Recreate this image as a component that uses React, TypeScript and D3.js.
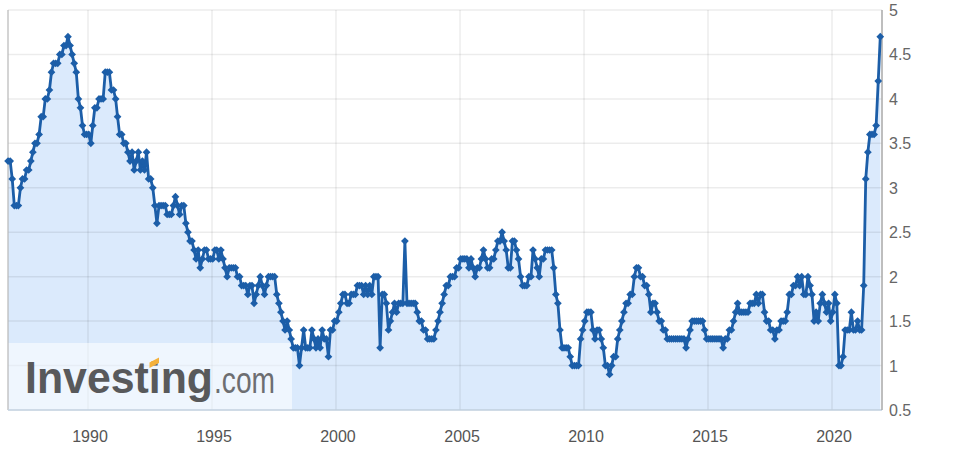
import React from "react";
import * as d3 from "d3";

const startYear = 1986;
const startMonth = 9; // October (0-based)

const rates: number[] = [
  // 1986 Oct-Dec
  3.3, 3.3, 3.1,
  // 1987
  2.8, 2.8, 2.8, 3.0, 3.1, 3.1, 3.2, 3.2, 3.3, 3.4, 3.5, 3.5,
  // 1988
  3.6, 3.8, 3.8, 4.0, 4.0, 4.1, 4.3, 4.4, 4.4, 4.4, 4.5, 4.5,
  // 1989
  4.6, 4.6, 4.7, 4.6, 4.5, 4.4, 4.3, 4.0, 3.9, 3.7, 3.6, 3.6,
  // 1990
  3.6, 3.5, 3.7, 3.9, 3.9, 4.0, 4.0, 4.0, 4.3, 4.3, 4.3, 4.1,
  // 1991
  4.1, 4.0, 3.8, 3.6, 3.6, 3.5, 3.5, 3.4, 3.3, 3.4, 3.2, 3.3,
  // 1992
  3.4, 3.2, 3.3, 3.2, 3.4, 3.1, 3.1, 3.0, 2.8, 2.6, 2.8, 2.8,
  // 1993
  2.8, 2.8, 2.7, 2.7, 2.7, 2.8, 2.9, 2.8, 2.7, 2.8, 2.8, 2.6,
  // 1994
  2.5, 2.4, 2.4, 2.3, 2.2, 2.3, 2.1, 2.2, 2.3, 2.3, 2.2, 2.2,
  // 1995
  2.2, 2.3, 2.3, 2.2, 2.3, 2.2, 2.1, 2.0, 2.1, 2.1, 2.1, 2.1,
  // 1996
  2.0, 2.0, 1.9, 1.9, 1.9, 1.8, 1.9, 1.9, 1.7, 1.8, 1.9, 2.0,
  // 1997
  1.9, 1.8, 1.9, 2.0, 2.0, 2.0, 2.0, 1.8, 1.7, 1.6, 1.5, 1.4,
  // 1998
  1.5, 1.4, 1.3, 1.2, 1.2, 1.2, 1.0, 1.2, 1.4, 1.2, 1.2, 1.2,
  // 1999
  1.4, 1.3, 1.2, 1.3, 1.2, 1.4, 1.3, 1.3, 1.1, 1.4, 1.4, 1.5,
  // 2000
  1.5, 1.6, 1.7, 1.8, 1.8, 1.7, 1.7, 1.8, 1.8, 1.8, 1.9, 1.9,
  // 2001
  1.9, 1.8, 1.9, 1.8, 1.9, 1.8, 2.0, 2.0, 2.0, 1.2, 1.8, 1.8,
  // 2002
  1.7, 1.4, 1.5, 1.6, 1.7, 1.6, 1.7, 1.7, 1.7, 2.4, 1.7, 1.7,
  // 2003
  1.7, 1.7, 1.7, 1.6, 1.5, 1.5, 1.4, 1.4, 1.3, 1.3, 1.3, 1.3,
  // 2004
  1.4, 1.5, 1.6, 1.7, 1.8, 1.9, 1.9, 2.0, 2.0, 2.0, 2.1, 2.1,
  // 2005
  2.2, 2.2, 2.2, 2.2, 2.1, 2.2, 2.1, 2.0, 2.1, 2.1, 2.2, 2.3,
  // 2006
  2.2, 2.1, 2.1, 2.2, 2.2, 2.3, 2.4, 2.4, 2.5, 2.4, 2.3, 2.1,
  // 2007
  2.1, 2.4, 2.4, 2.3, 2.2, 2.0, 1.9, 1.9, 1.9, 2.0, 2.0, 2.3,
  // 2008
  2.2, 2.1, 2.0, 2.2, 2.2, 2.3, 2.3, 2.3, 2.3, 2.1, 1.8, 1.7,
  // 2009
  1.4, 1.2, 1.2, 1.2, 1.2, 1.1, 1.0, 1.0, 1.0, 1.0, 1.3, 1.4,
  // 2010
  1.5, 1.6, 1.6, 1.6, 1.4, 1.3, 1.4, 1.4, 1.3, 1.2, 1.0, 1.0,
  // 2011
  0.9, 1.0, 1.1, 1.1, 1.3, 1.4, 1.5, 1.6, 1.7, 1.7, 1.8, 1.8,
  // 2012
  2.0, 2.1, 2.1, 2.0, 2.0, 1.9, 1.9, 1.8, 1.6, 1.7, 1.7, 1.6,
  // 2013
  1.5, 1.5, 1.4, 1.4, 1.3, 1.3, 1.3, 1.3, 1.3, 1.3, 1.3, 1.3,
  // 2014
  1.3, 1.2, 1.3, 1.4, 1.5, 1.5, 1.5, 1.5, 1.5, 1.5, 1.4, 1.3,
  // 2015
  1.3, 1.3, 1.3, 1.3, 1.3, 1.3, 1.3, 1.2, 1.3, 1.3, 1.4, 1.4,
  // 2016
  1.5, 1.6, 1.7, 1.6, 1.6, 1.6, 1.6, 1.6, 1.7, 1.7, 1.7, 1.8,
  // 2017
  1.7, 1.8, 1.8, 1.6, 1.5, 1.5, 1.4, 1.4, 1.3, 1.4, 1.4, 1.5,
  // 2018
  1.5, 1.5, 1.6, 1.8, 1.8, 1.9, 1.9, 2.0, 1.9, 2.0, 1.8, 1.8,
  // 2019
  2.0, 1.9, 1.8, 1.5, 1.6, 1.5, 1.7, 1.8, 1.7, 1.6, 1.7, 1.5,
  // 2020
  1.6, 1.8, 1.7, 1.0, 1.0, 1.1, 1.4, 1.4, 1.4, 1.6, 1.4, 1.4,
  // 2021
  1.5, 1.4, 1.4, 1.9, 3.1, 3.4, 3.6, 3.6, 3.6, 3.7, 4.2, 4.7,
];

const xTickYears = [1990, 1995, 2000, 2005, 2010, 2015, 2020];
const yTicks = [0.5, 1, 1.5, 2, 2.5, 3, 3.5, 4, 4.5, 5];

const W = 961;
const H = 461;
const LEFT = 8;
const RIGHT = 882;
const TOP = 10;
const BOTTOM = 410;

const FONT = "'Liberation Sans', Arial, sans-serif";

export default function App() {
  const data = rates.map((v, i) => ({
    date: new Date(startYear, startMonth + i, 12),
    value: v,
  }));

  const x = d3
    .scaleTime()
    .domain([new Date(1990, 0, 1), new Date(2020, 0, 1)])
    .range([88, 832]);
  const y = d3.scaleLinear().domain([0.5, 5]).range([BOTTOM, TOP]);

  const line = d3
    .line<{ date: Date; value: number }>()
    .x((d) => x(d.date))
    .y((d) => y(d.value));
  const area = d3
    .area<{ date: Date; value: number }>()
    .x((d) => x(d.date))
    .y0(BOTTOM)
    .y1((d) => y(d.value));

  const marker = d3.symbol().type(d3.symbolSquare).size(30)() as string;

  return (
    <svg
      width={W}
      height={H}
      style={{ position: "absolute", left: 0, top: 0, background: "#fff" }}
    >
      <rect x={0} y={0} width={W} height={H} fill="#fff" />
      {/* area */}
      <path d={area(data) as string} fill="#dbeafc" />
      {/* grid */}
      {yTicks.map((t) => (
        <line
          key={"gy" + t}
          x1={LEFT}
          x2={RIGHT}
          y1={y(t)}
          y2={y(t)}
          stroke="rgba(0,0,0,0.075)"
          strokeWidth={1.5}
        />
      ))}
      {xTickYears.map((yr) => (
        <line
          key={"gx" + yr}
          x1={x(new Date(yr, 0, 1))}
          x2={x(new Date(yr, 0, 1))}
          y1={TOP}
          y2={BOTTOM}
          stroke="rgba(0,0,0,0.075)"
          strokeWidth={1.5}
        />
      ))}
      {/* watermark */}
      <g>
        <rect x={LEFT} y={343} width={284} height={BOTTOM - 343} fill="rgba(255,255,255,0.55)" />
        <text
          x={25}
          y={393}
          fontFamily={FONT}
          fontWeight="bold"
          fontSize={44}
          fill="#58595b"
          textLength={188}
          lengthAdjust="spacingAndGlyphs"
        >
          Investing
        </text>
        <polygon points="149.5,362.5 159,357.5 159,363 149.5,368" fill="#f4b13c" />
        <text
          x={214}
          y={393}
          fontFamily={FONT}
          fontSize={36}
          fill="#6d6e71"
          textLength={61}
          lengthAdjust="spacingAndGlyphs"
        >
          .com
        </text>
      </g>
      {/* axes borders */}
      <line x1={LEFT} x2={LEFT} y1={TOP} y2={BOTTOM} stroke="#b8b8b8" strokeWidth={1.2} />
      <line x1={LEFT} x2={RIGHT} y1={BOTTOM} y2={BOTTOM} stroke="#c5d3e2" strokeWidth={1.5} />
      <line x1={RIGHT} x2={RIGHT} y1={TOP} y2={BOTTOM} stroke="#a8a8a8" strokeWidth={1.5} />
      {/* series */}
      <path
        d={line(data) as string}
        fill="none"
        stroke="#1c5ea8"
        strokeWidth={2.8}
        strokeLinejoin="round"
      />
      {data.map((d, i) => (
        <path
          key={i}
          d={marker}
          transform={`translate(${x(d.date)},${y(d.value)}) rotate(45)`}
          fill="#1c5ea8"
        />
      ))}
      {/* y labels */}
      {yTicks.map((t) => (
        <text
          key={"yl" + t}
          x={889}
          y={y(t) + 6}
          fontFamily={FONT}
          fontSize={16}
          fill="#666"
        >
          {String(t)}
        </text>
      ))}
      {/* x labels */}
      {xTickYears.map((yr) => (
        <text
          key={"xl" + yr}
          x={x(new Date(yr, 0, 1)) + 2}
          y={442}
          textAnchor="middle"
          fontFamily={FONT}
          fontSize={16}
          fill="#555"
        >
          {yr}
        </text>
      ))}
    </svg>
  );
}
